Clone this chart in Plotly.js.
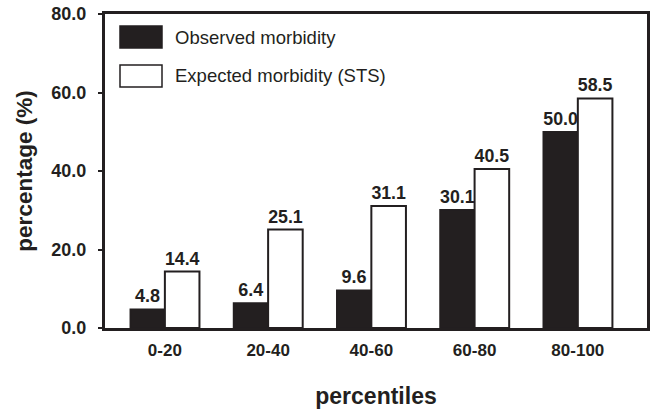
<!DOCTYPE html>
<html><head><meta charset="utf-8">
<script src="https://cdn.plot.ly/plotly-3.0.1.min.js"></script>
<style>html,body{margin:0;padding:0;background:#fff}#chart{width:654px;height:409px}</style>
</head><body><div id="chart"></div>
<script>
const categories = ["0-20","20-40","40-60","60-80","80-100"];
const observed = [4.8, 6.4, 9.6, 30.1, 50.0];
const expected = [14.4, 25.1, 31.1, 40.5, 58.5];
const seriesNames = ["Observed morbidity","Expected morbidity (STS)"];
const yTicks = [0,20,40,60,80];
const yTickLabels = ["0.0","20.0","40.0","60.0","80.0"];

const FONT = "Liberation Sans, Arial, sans-serif";
const INK = "#231f20";
const catIdx = categories.map((c,i)=>i);

const traces = [
  {type:"bar", name:seriesNames[0], x:catIdx, y:observed,
   marker:{color:INK, line:{color:INK, width:1.5}},
   text:observed.map(v=>v.toFixed(1)), textposition:"outside", cliponaxis:false,
   textfont:{family:FONT, size:18, color:INK, weight:"bold"}, showlegend:false},
  {type:"bar", name:seriesNames[1], x:catIdx, y:expected,
   marker:{color:"#ffffff", line:{color:INK, width:2}},
   text:expected.map(v=>v.toFixed(1)), textposition:"outside", cliponaxis:false,
   textfont:{family:FONT, size:18, color:INK, weight:"bold"}, showlegend:false}
];

const layout = {
  width:654, height:409,
  margin:{l:105, r:7, t:14, b:81},
  paper_bgcolor:"#fff", plot_bgcolor:"#fff",
  barmode:"group", bargap:0.33, bargroupgap:0,
  font:{family:FONT, color:INK},
  xaxis:{range:[-0.58,4.67], tickmode:"array", tickvals:catIdx, ticktext:categories,
    showgrid:false, zeroline:false, showline:true, mirror:true, linewidth:3, linecolor:INK,
    ticks:"", ticklabelstandoff:5, tickfont:{family:FONT, size:17, color:INK, weight:"bold"},
    title:{text:"percentiles", font:{family:FONT, size:23, color:INK, weight:"bold"}, standoff:36}},
  yaxis:{range:[0,80], tickmode:"array", tickvals:yTicks, ticktext:yTickLabels,
    showgrid:false, zeroline:false, showline:true, mirror:true, linewidth:3, linecolor:INK,
    ticks:"outside", ticklen:4, tickwidth:2, tickcolor:INK, ticklabelstandoff:8,
    tickfont:{family:FONT, size:18, color:INK, weight:"bold"},
    title:{text:"percentage (%)", font:{family:FONT, size:22.5, color:INK, weight:"bold"}, standoff:13}},
  shapes:[
    {type:"rect", xref:"paper", yref:"paper", x0:15/542, x1:57/542, y0:1-(26-14)/314, y1:1-(48-14)/314,
     fillcolor:INK, line:{color:INK, width:1.5}},
    {type:"rect", xref:"paper", yref:"paper", x0:15/542, x1:57/542, y0:1-(65-14)/314, y1:1-(87-14)/314,
     fillcolor:"#fff", line:{color:INK, width:1.5}}
  ],
  annotations:[
    {xref:"paper", yref:"paper", x:68/542, y:1-(37-14)/314, xanchor:"left", yanchor:"middle",
     text:seriesNames[0], showarrow:false, font:{family:FONT, size:18.5, color:INK}},
    {xref:"paper", yref:"paper", x:68/542, y:1-(76-14)/314, xanchor:"left", yanchor:"middle",
     text:seriesNames[1], showarrow:false, font:{family:FONT, size:18.5, color:INK}}
  ]
};
Plotly.newPlot("chart", traces, layout, {displayModeBar:false, staticPlot:true});
</script></body></html>
